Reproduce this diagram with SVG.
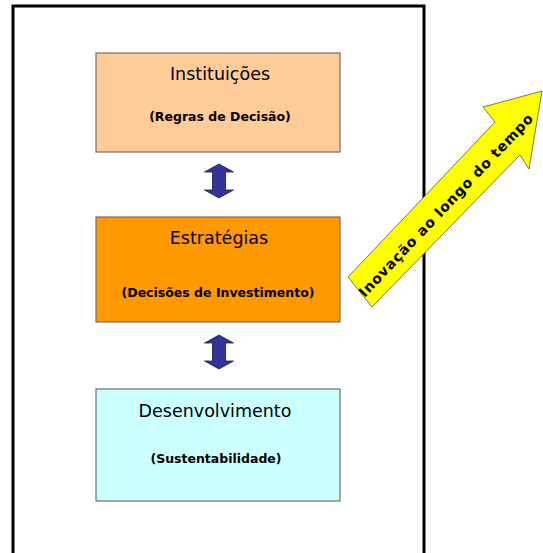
<svg xmlns="http://www.w3.org/2000/svg" width="543" height="553" viewBox="0 0 543 553">
  <style>
    .box { stroke: #6e6e6e; stroke-width: 1.2; }
    .title { font-family: "DejaVu Sans", "Noto Sans", sans-serif; font-size: 17.5px; fill: #000; text-anchor: middle; }
    .sub { font-family: "DejaVu Sans", "Noto Sans", sans-serif; font-size: 12.5px; font-weight: bold; fill: #000; text-anchor: middle; }
    .dbl { fill: #333399; stroke: #1c1c4a; stroke-width: 0.8; }
  </style>
  <defs>
    <!-- vertical double-headed arrow, centred on the origin -->
    <path id="dblArrow" d="M0,-17 L14.5,-9 L6.5,-9 L6.5,9 L14.5,9 L0,17 L-14.5,9 L-6.5,9 L-6.5,-9 L-14.5,-9 Z"/>
  </defs>
  <rect width="543" height="553" fill="#fff"/>

  <!-- outer frame, open at the bottom -->
  <path d="M13,560 V6 H424 V560" fill="none" stroke="#000" stroke-width="3"/>

  <g id="instituicoes">
    <rect class="box" x="96" y="53" width="244" height="99" fill="#FFCC99"/>
    <text class="title" x="220" y="80" font-size="18.5">Instituições</text>
    <text class="sub" x="220" y="121">(Regras de Decisão)</text>
  </g>

  <g id="estrategias">
    <rect class="box" x="96" y="217" width="244" height="105" fill="#FF9900"/>
    <text class="title" x="219" y="244" font-size="18">Estratégias</text>
    <text class="sub" x="218" y="297">(Decisões de Investimento)</text>
  </g>

  <g id="desenvolvimento">
    <rect class="box" x="96" y="389" width="244" height="112" fill="#CCFFFF"/>
    <text class="title" x="215" y="417" font-size="17.2">Desenvolvimento</text>
    <text class="sub" x="216" y="463">(Sustentabilidade)</text>
  </g>

  <g id="connectors">
    <use href="#dblArrow" class="dbl" transform="translate(219,181)"/>
    <use href="#dblArrow" class="dbl" transform="translate(219,352)"/>
  </g>

  <g id="inovacao">
    <path d="M348,277 L495,122 L483,107 L542,91 L529,169 L520,155 L372,307 Z" fill="#FFFF00" stroke="#555" stroke-width="0.8"/>
    <text x="446" y="205" transform="rotate(-46.5 446 205)" font-family="DejaVu Sans, sans-serif" font-size="14" font-weight="bold" fill="#000" text-anchor="middle" dominant-baseline="central" letter-spacing="0.9">Inovação ao longo do tempo</text>
  </g>
</svg>
